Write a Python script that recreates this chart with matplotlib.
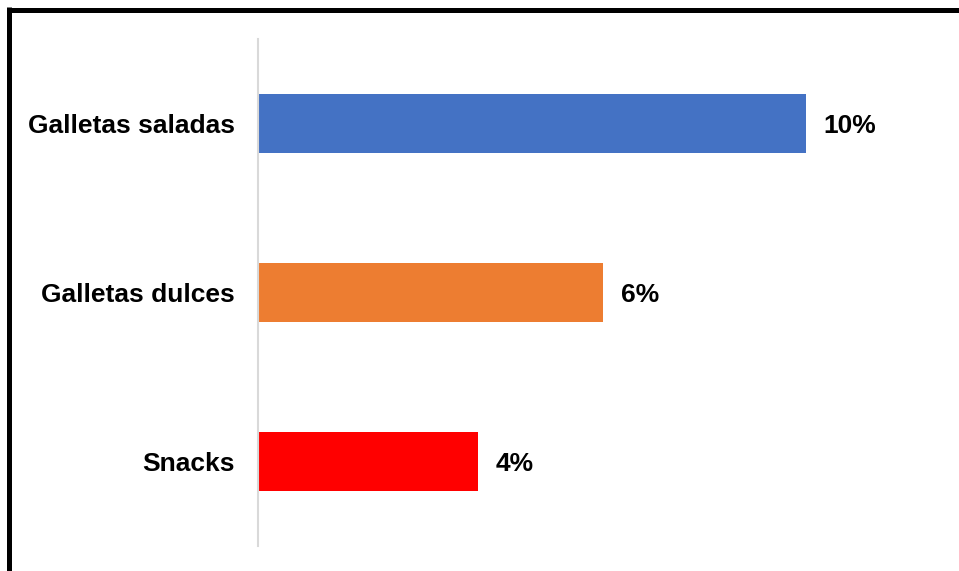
import matplotlib
matplotlib.use("Agg")
import matplotlib.pyplot as plt
from matplotlib.lines import Line2D

categories = ["Galletas saladas", "Galletas dulces", "Snacks"]
values = [9.96, 6.27, 4.0]
colors = ["#4472C4", "#ED7D31", "#FF0000"]

plt.rcParams["font.family"] = ["Liberation Sans", "DejaVu Sans"]

W, H = 959, 571
fig = plt.figure(figsize=(W / 100, H / 100), dpi=100)
fig.patch.set_facecolor("white")

ax = fig.add_axes([258 / W, 25 / H, 682 / W, 507 / H])
ypos = list(range(len(categories)))[::-1]
ax.barh(ypos, values, height=0.35, color=colors)
ax.set_ylim(-0.5, len(categories) - 0.5)
ax.set_xlim(0, 682 / 55)
ax.set_yticks(ypos)
ax.set_yticklabels(categories, fontsize=19, fontweight="bold")
ax.tick_params(axis="y", length=0, pad=16.5)
ax.set_xticks([])
for s in ["top", "right", "bottom"]:
    ax.spines[s].set_visible(False)
ax.spines["left"].set_color("#d9d9d9")
ax.spines["left"].set_linewidth(1.5)

for y, v in zip(ypos, values):
    ax.annotate(f"{v:.0f}%", xy=(v, y), xytext=(13, 0), textcoords="offset points",
                va="center_baseline", ha="left", fontsize=19, fontweight="bold")

# outer frame (top and left edges visible)
fig.add_artist(Line2D([7 / W, 1], [1 - 9.5 / H, 1 - 9.5 / H], transform=fig.transFigure,
                      color="black", linewidth=3.6, solid_capstyle="butt"))
fig.add_artist(Line2D([9 / W, 9 / W], [0, 1 - 7 / H], transform=fig.transFigure,
                      color="black", linewidth=3.6, solid_capstyle="butt"))

fig.savefig("out.png", dpi=100)
